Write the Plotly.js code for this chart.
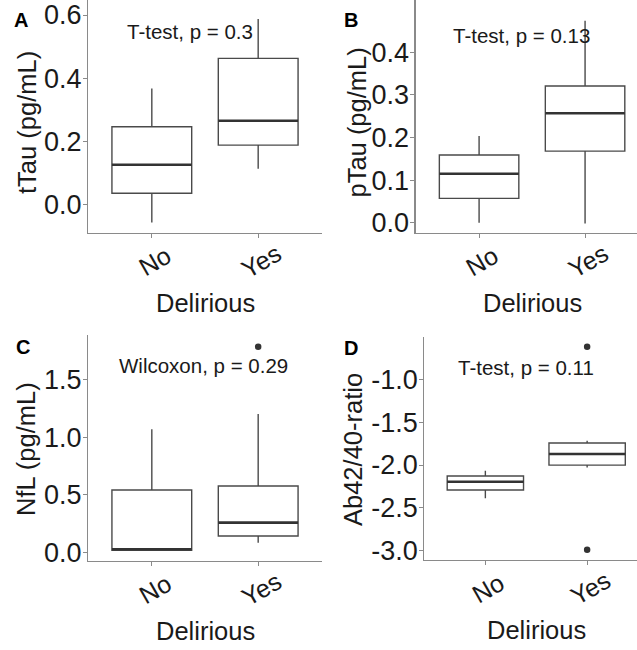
<!DOCTYPE html>
<html>
<head>
<meta charset="utf-8">
<script src="https://cdn.plot.ly/plotly-3.0.1.min.js"></script>
<style>html,body{margin:0;padding:0;background:#fff;}#chart{width:637px;height:650px;}</style>
</head>
<body>
<div id="chart"></div>
<script>
// ---------------- data ----------------
const categories = ['No', 'Yes'];
const xTitle = 'Delirious';

// Panel A: tTau
const tTauLow = [-0.055, 0.114];
const tTauQ1 = [0.037, 0.189];
const tTauMed = [0.127, 0.266];
const tTauQ3 = [0.247, 0.463];
const tTauHigh = [0.368, 0.587];
const tTauTicks = [0, 0.2, 0.4, 0.6];
const tTauTickText = ['0.0', '0.2', '0.4', '0.6'];

// Panel B: pTau
const pTauLow = [0.0, -0.002];
const pTauQ1 = [0.057, 0.168];
const pTauMed = [0.115, 0.257];
const pTauQ3 = [0.159, 0.321];
const pTauHigh = [0.2035, 0.474];
const pTauTicks = [0, 0.1, 0.2, 0.3, 0.4];
const pTauTickText = ['0.0', '0.1', '0.2', '0.3', '0.4'];

// Panel C: NfL
const nflLow = [0.02, 0.087];
const nflQ1 = [0.022, 0.144];
const nflMed = [0.03, 0.26];
const nflQ3 = [0.542, 0.577];
const nflHigh = [1.067, 1.2];
const nflOutX = ['Yes'];
const nflOutY = [1.782];
const nflTicks = [0, 0.5, 1.0, 1.5];
const nflTickText = ['0.0', '0.5', '1.0', '1.5'];

// Panel D: Ab42/40 ratio
const abLow = [-2.389, -2.03];
const abQ1 = [-2.292, -2.002];
const abMed = [-2.195, -1.872];
const abQ3 = [-2.128, -1.743];
const abHigh = [-2.066, -1.716];
const abOutX = ['Yes', 'Yes'];
const abOutY = [-0.62, -2.99];
const abTicks = [-3.0, -2.5, -2.0, -1.5, -1.0];
const abTickText = ['-3.0', '-2.5', '-2.0', '-1.5', '-1.0'];

const panelLabels = ['A', 'B', 'C', 'D'];
const yTitles = ['tTau (pg/mL)', 'pTau (pg/mL)', 'NfL (pg/mL)', 'Ab42/40-ratio'];
const testLabels = ['T-test, p = 0.3', 'T-test, p = 0.13', 'Wilcoxon, p = 0.29', 'T-test, p = 0.11'];

// ---------------- layout geometry (pixels) ----------------
const W = 637, H = 650;
const px = v => v / W;
const py = v => 1 - v / H;
const FONT = 'Arial, "Liberation Sans", sans-serif';

const panels = [
  {stats: [tTauLow, tTauQ1, tTauMed, tTauQ3, tTauHigh], ticks: tTauTicks, tickText: tTauTickText,
   xdom: [88, 322], ydom: [0, 233.3], xr: [0.4, 2.6], yr: [-0.0895, 0.6474],
   label: [12.3, 19.5], test: [190, 31.5], ytitle: [26.5, 122.5]},
  {stats: [pTauLow, pTauQ1, pTauMed, pTauQ3, pTauHigh], ticks: pTauTicks, tickText: pTauTickText,
   xdom: [415.5, 637], ydom: [0, 233.3], xr: [0.4, 2.49], yr: [-0.0249, 0.5228],
   label: [342, 19.5], test: [521, 35.8], ytitle: [356, 122.5]},
  {stats: [nflLow, nflQ1, nflMed, nflQ3, nflHigh], ticks: nflTicks, tickText: nflTickText,
   outX: nflOutX, outY: nflOutY,
   xdom: [88, 322], ydom: [335, 560.7], xr: [0.4, 2.6], yr: [-0.069, 1.883],
   label: [14, 346.7], test: [203.3, 365.8], ytitle: [26, 449]},
  {stats: [abLow, abQ1, abMed, abQ3, abHigh], ticks: abTicks, tickText: abTickText,
   outX: abOutX, outY: abOutY,
   xdom: [424.3, 637], ydom: [336.7, 560], xr: [0.4, 2.49], yr: [-3.1085, -0.503],
   label: [342, 347.5], test: [526, 367.5], ytitle: [353, 450]}
];

const BOXW = 0.75;
const catPos = categories.map((c, i) => i + 1);
const data = [];
const annotations = [];
const layout = {
  width: W, height: H,
  margin: {l: 0, r: 0, t: 0, b: 0},
  paper_bgcolor: '#ffffff', plot_bgcolor: '#ffffff',
  showlegend: false,
  font: {family: FONT, color: '#1a1a1a'}
};

panels.forEach((p, k) => {
  const n = k + 1;
  const xa = n === 1 ? 'x' : 'x' + n;
  const ya = n === 1 ? 'y' : 'y' + n;
  const [low, q1, med, q3, high] = p.stats;

  data.push({
    type: 'box', xaxis: xa, yaxis: ya,
    x: catPos, q1: q1, median: med, q3: q3, lowerfence: low, upperfence: high,
    width: BOXW, boxpoints: false, whiskerwidth: 0,
    fillcolor: '#ffffff',
    line: {color: '#4a4a4a', width: 1.4},
    hoverinfo: 'skip'
  });
  // thicker median bars (ggplot fatten)
  const mx = [], my = [];
  catPos.forEach((c, i) => { mx.push(c - BOXW / 2, c + BOXW / 2, null); my.push(med[i], med[i], null); });
  data.push({type: 'scatter', mode: 'lines', xaxis: xa, yaxis: ya, x: mx, y: my,
    line: {color: '#333333', width: 2.6}, hoverinfo: 'skip'});
  if (p.outX) {
    data.push({type: 'scatter', mode: 'markers', xaxis: xa, yaxis: ya,
      x: p.outX.map(c => categories.indexOf(c) + 1), y: p.outY,
      marker: {color: '#333333', size: 6.5}, hoverinfo: 'skip'});
  }

  const axisKeyX = n === 1 ? 'xaxis' : 'xaxis' + n;
  const axisKeyY = n === 1 ? 'yaxis' : 'yaxis' + n;
  layout[axisKeyX] = {
    domain: [px(p.xdom[0]), px(p.xdom[1])], range: p.xr, anchor: ya,
    showline: true, linecolor: '#8a8a8a', linewidth: 1.1,
    ticks: 'outside', ticklen: 4, tickwidth: 1, tickcolor: '#8a8a8a',
    tickvals: catPos, ticktext: categories, showticklabels: false,
    showgrid: false, zeroline: false, fixedrange: true
  };
  layout[axisKeyY] = {
    domain: [py(p.ydom[1]), py(p.ydom[0])], range: p.yr, anchor: xa,
    showline: true, linecolor: '#8a8a8a', linewidth: 1.1,
    ticks: 'outside', ticklen: 4, tickwidth: 1, tickcolor: '#8a8a8a',
    tickvals: p.ticks, ticktext: p.tickText, ticklabelstandoff: -4,
    tickfont: {family: FONT, size: 27, color: '#1a1a1a'},
    showgrid: false, zeroline: false, fixedrange: true
  };

  // rotated category tick labels
  categories.forEach((c, i) => {
    annotations.push({xref: xa, yref: 'paper', x: i + 1, y: py(p.ydom[1] + 28),
      xshift: 3, text: c, showarrow: false, textangle: -30,
      xanchor: 'center', yanchor: 'middle',
      font: {family: FONT, size: 25, color: '#1a1a1a'}});
  });
  // x title
  annotations.push({xref: xa, yref: 'paper', x: (catPos[0] + catPos[catPos.length - 1]) / 2,
    y: py(p.ydom[1] + 70), text: xTitle, showarrow: false, xanchor: 'center', yanchor: 'middle',
    font: {family: FONT, size: 25.5, color: '#1a1a1a'}});
  // y title
  annotations.push({xref: 'paper', yref: 'paper', x: px(p.ytitle[0]), y: py(p.ytitle[1]),
    text: yTitles[k], showarrow: false, textangle: -90, xanchor: 'center', yanchor: 'middle',
    font: {family: FONT, size: 25.5, color: '#1a1a1a'}});
  // test label
  annotations.push({xref: 'paper', yref: 'paper', x: px(p.test[0]), y: py(p.test[1]),
    text: testLabels[k], showarrow: false, xanchor: 'center', yanchor: 'middle',
    font: {family: FONT, size: 20.5, color: '#1a1a1a'}});
  // panel letter
  annotations.push({xref: 'paper', yref: 'paper', x: px(p.label[0]), y: py(p.label[1]),
    text: '<b>' + panelLabels[k] + '</b>', showarrow: false, xanchor: 'left', yanchor: 'middle',
    font: {family: FONT, size: 20, color: '#000000'}});
});

layout.annotations = annotations;
Plotly.newPlot('chart', data, layout, {staticPlot: true, displayModeBar: false});
</script>
</body>
</html>
